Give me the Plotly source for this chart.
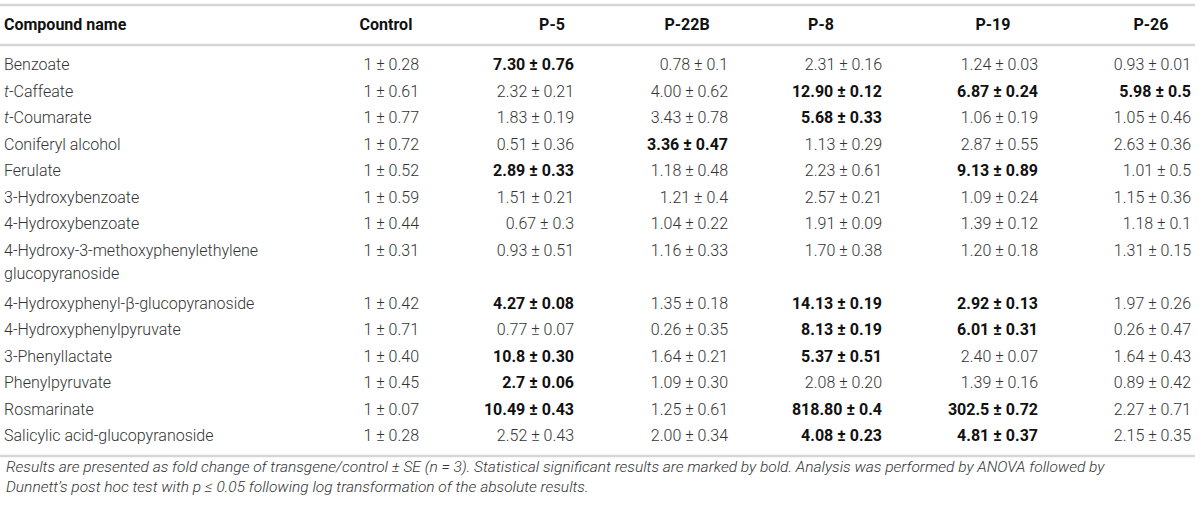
import plotly.graph_objects as go

# Table data (fold change of transgene/control +- SE)
compounds = [
    "Benzoate", "<i>t</i>-Caffeate", "<i>t</i>-Coumarate", "Coniferyl alcohol",
    "Ferulate", "3-Hydroxybenzoate", "4-Hydroxybenzoate",
    "4-Hydroxy-3-methoxyphenylethylene<br>glucopyranoside",
    "4-Hydroxyphenyl-β-glucopyranoside", "4-Hydroxyphenylpyruvate",
    "3-Phenyllactate", "Phenylpyruvate", "Rosmarinate",
    "Salicylic acid-glucopyranoside",
]
lines = ["Control", "P-5", "P-22B", "P-8", "P-19", "P-26"]

control_mean = ["1", "1", "1", "1", "1", "1", "1", "1", "1", "1", "1", "1", "1", "1"]
control_se = ["0.28", "0.61", "0.77", "0.72", "0.52", "0.59", "0.44", "0.31", "0.42", "0.71", "0.40", "0.45", "0.07", "0.28"]
control_bold = [0, 0, 0, 0, 0, 0, 0, 0, 0, 0, 0, 0, 0, 0]

p5_mean = ["7.30", "2.32", "1.83", "0.51", "2.89", "1.51", "0.67", "0.93", "4.27", "0.77", "10.8", "2.7", "10.49", "2.52"]
p5_se = ["0.76", "0.21", "0.19", "0.36", "0.33", "0.21", "0.3", "0.51", "0.08", "0.07", "0.30", "0.06", "0.43", "0.43"]
p5_bold = [1, 0, 0, 0, 1, 0, 0, 0, 1, 0, 1, 1, 1, 0]

p22b_mean = ["0.78", "4.00", "3.43", "3.36", "1.18", "1.21", "1.04", "1.16", "1.35", "0.26", "1.64", "1.09", "1.25", "2.00"]
p22b_se = ["0.1", "0.62", "0.78", "0.47", "0.48", "0.4", "0.22", "0.33", "0.18", "0.35", "0.21", "0.30", "0.61", "0.34"]
p22b_bold = [0, 0, 0, 1, 0, 0, 0, 0, 0, 0, 0, 0, 0, 0]

p8_mean = ["2.31", "12.90", "5.68", "1.13", "2.23", "2.57", "1.91", "1.70", "14.13", "8.13", "5.37", "2.08", "818.80", "4.08"]
p8_se = ["0.16", "0.12", "0.33", "0.29", "0.61", "0.21", "0.09", "0.38", "0.19", "0.19", "0.51", "0.20", "0.4", "0.23"]
p8_bold = [0, 1, 1, 0, 0, 0, 0, 0, 1, 1, 1, 0, 1, 1]

p19_mean = ["1.24", "6.87", "1.06", "2.87", "9.13", "1.09", "1.39", "1.20", "2.92", "6.01", "2.40", "1.39", "302.5", "4.81"]
p19_se = ["0.03", "0.24", "0.19", "0.55", "0.89", "0.24", "0.12", "0.18", "0.13", "0.31", "0.07", "0.16", "0.72", "0.37"]
p19_bold = [0, 1, 0, 0, 1, 0, 0, 0, 1, 1, 0, 0, 1, 1]

p26_mean = ["0.93", "5.98", "1.05", "2.63", "1.01", "1.15", "1.18", "1.31", "1.97", "0.26", "1.64", "0.89", "2.27", "2.15"]
p26_se = ["0.01", "0.5", "0.46", "0.36", "0.5", "0.36", "0.1", "0.15", "0.26", "0.47", "0.43", "0.42", "0.71", "0.35"]
p26_bold = [0, 1, 0, 0, 0, 0, 0, 0, 0, 0, 0, 0, 0, 0]

footnote = [
    "Results are presented as fold change of transgene/control ± SE (<i>n</i> = 3). Statistical significant results are marked by bold. Analysis was performed by ANOVA followed by",
    "Dunnett’s post hoc test with <i>p</i> ≤ 0.05 following log transformation of the absolute results.",
]

# Layout (pixel units)
W, H = 1200, 507
FONT = "Roboto, Liberation Sans, Arial, sans-serif"
TEXT = "#333333"
DARK = "#111111"
RULE = "#d6d6d6"
name_x = 4
value_right = [419, 574, 728, 882, 1038, 1191]
header_x = [386, 552, 687, 821, 993, 1151]
header_y = 26
first_y = 66
step = 26.5
rules_y = [5, 45, 456]
note_y = [467, 487]

columns = [
    (control_mean, control_se, control_bold),
    (p5_mean, p5_se, p5_bold),
    (p22b_mean, p22b_se, p22b_bold),
    (p8_mean, p8_se, p8_bold),
    (p19_mean, p19_se, p19_bold),
    (p26_mean, p26_se, p26_bold),
]

# row positions; wrapped names use more than one line
row_y = []
name_xs, name_ys, name_txt = [], [], []
line_no = 0
for name in compounds:
    y = first_y + step * line_no
    row_y.append(y)
    parts = name.split("<br>")
    for k, p in enumerate(parts):
        name_xs.append(name_x)
        name_ys.append(y + k * 23)
        name_txt.append(p)
    line_no += len(parts)

fig = go.Figure()

fig.add_trace(go.Scatter(
    x=name_xs, y=name_ys, text=name_txt, mode="text",
    textposition="middle right",
    textfont=dict(family=FONT, size=16, color=TEXT, weight=300),
    hoverinfo="skip", showlegend=False,
))

for j, (means, ses, bold) in enumerate(columns):
    txt, cols = [], []
    for m, s, b in zip(means, ses, bold):
        t = m + " ± " + s
        if b:
            txt.append("<b>" + t + "</b>")
            cols.append(DARK)
        else:
            txt.append(t)
            cols.append(TEXT)
    fig.add_trace(go.Scatter(
        x=[value_right[j]] * len(txt), y=row_y, text=txt, mode="text",
        textposition="middle left",
        textfont=dict(family=FONT, size=16, color=cols, weight=300),
        hoverinfo="skip", showlegend=False,
    ))

# header row
fig.add_trace(go.Scatter(
    x=[name_x], y=[header_y], text=["<b>Compound name</b>"], mode="text",
    textposition="middle right",
    textfont=dict(family=FONT, size=16, color=DARK),
    hoverinfo="skip", showlegend=False,
))
fig.add_trace(go.Scatter(
    x=header_x, y=[header_y] * len(lines), text=["<b>" + c + "</b>" for c in lines],
    mode="text", textposition="middle center",
    textfont=dict(family=FONT, size=16, color=DARK),
    hoverinfo="skip", showlegend=False,
))

for ry in rules_y:
    fig.add_shape(type="line", xref="x", yref="y", x0=0, x1=1195, y0=ry, y1=ry,
                  line=dict(color=RULE, width=2.5))

for t, ny in zip(footnote, note_y):
    fig.add_annotation(x=name_x, y=ny, xref="x", yref="y", text="<i>" + t + "</i>",
                       showarrow=False, xanchor="left", yanchor="middle",
                       font=dict(family=FONT, size=15.5, color=TEXT, weight=300))

fig.update_layout(
    width=W, height=H,
    margin=dict(l=0, r=0, t=0, b=0),
    paper_bgcolor="white", plot_bgcolor="white",
    xaxis=dict(range=[0, W], visible=False, fixedrange=True),
    yaxis=dict(range=[H, 0], visible=False, fixedrange=True),
)

# drop the default page margin so the figure sits at the window's corner
fig.write_html("out.html", config={"displayModeBar": False},
               post_script="document.body.style.margin='0';document.body.style.overflow='hidden';")
